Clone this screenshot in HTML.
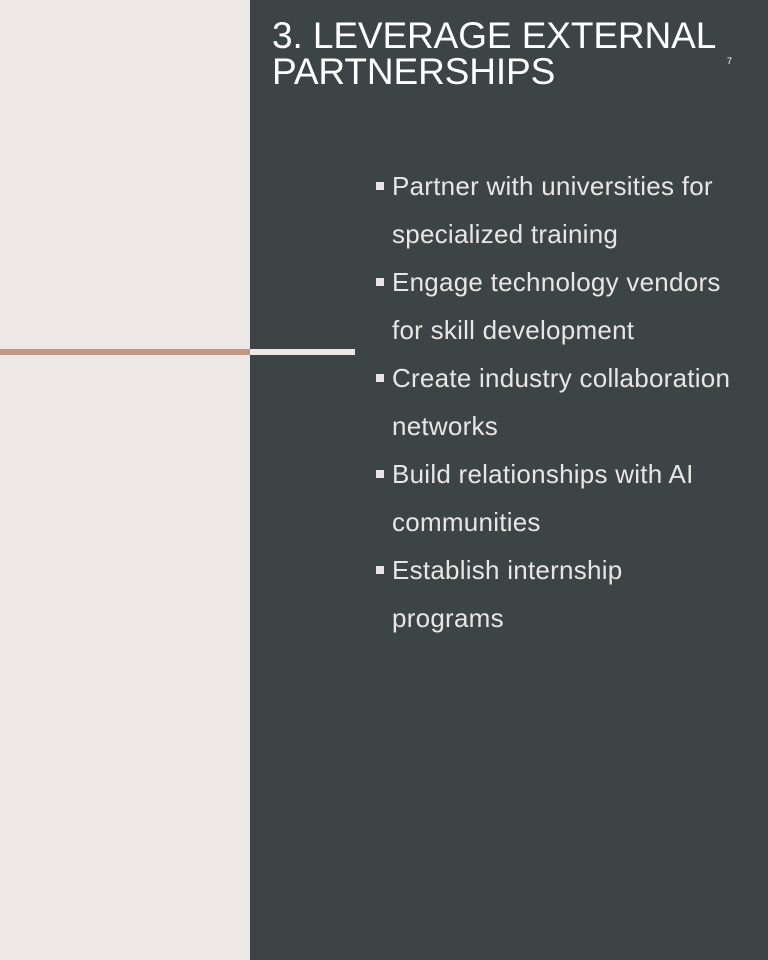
<!DOCTYPE html>
<html><head><style>
html,body{margin:0;padding:0}
body{width:768px;height:960px;position:relative;background:#ede8e5;overflow:hidden;font-family:"Liberation Sans",Arial,sans-serif}
.panel{position:absolute;left:250px;top:0;width:518px;height:960px;background:#3c4446}
.t{position:absolute;left:272px;top:18px;color:#fff;font-size:37px;line-height:36px;white-space:nowrap;letter-spacing:-0.1px}
.n{position:absolute;left:727px;top:56px;color:#fff;font-size:9px}
.l1{position:absolute;left:0;top:349px;width:250px;height:6px;background:#c09a86}
.l2{position:absolute;left:250px;top:349px;width:105px;height:6px;background:#ede8e5}
.b{position:absolute;left:392px;color:#e8e6e4;font-size:26px;line-height:48px;white-space:nowrap;letter-spacing:0.25px}
.sq{position:absolute;left:376px;width:8px;height:8px;background:#e8e6e4}
</style></head><body>
<div class="panel"></div>
<div class="t">3. LEVERAGE EXTERNAL<br>PARTNERSHIPS</div>
<div class="n">7</div>
<div class="l1"></div><div class="l2"></div>
<div class="b" style="top:162px">Partner with universities for<br>specialized training</div>
<div class="sq" style="top:182px"></div>
<div class="b" style="top:258px">Engage technology vendors<br>for skill development</div>
<div class="sq" style="top:278px"></div>
<div class="b" style="top:354px">Create industry collaboration<br>networks</div>
<div class="sq" style="top:374px"></div>
<div class="b" style="top:450px">Build relationships with AI<br>communities</div>
<div class="sq" style="top:470px"></div>
<div class="b" style="top:546px">Establish internship<br>programs</div>
<div class="sq" style="top:566px"></div>
</body></html>
